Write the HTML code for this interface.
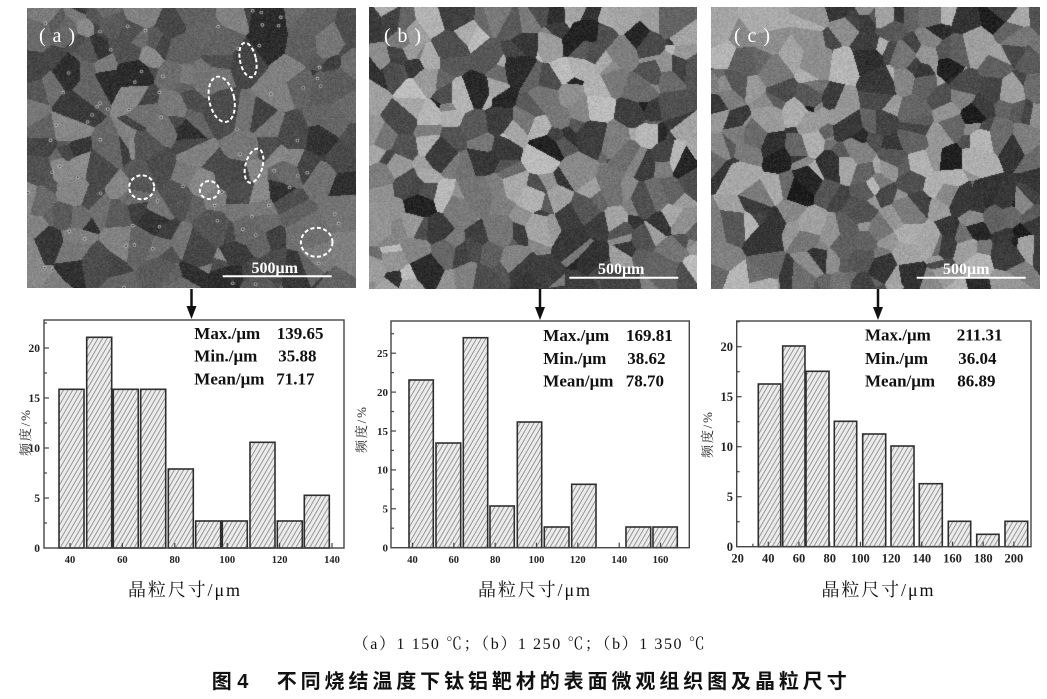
<!DOCTYPE html>
<html>
<head>
<meta charset="utf-8">
<style>
html,body{margin:0;padding:0;background:#fff;}
#wrap{position:relative;width:1047px;height:699px;overflow:hidden;background:#fff;}
canvas{position:absolute;display:block;background:#767676;}
svg{position:absolute;left:0;top:0;}
</style>
</head>
<body>
<div id="wrap">
<canvas id="ca" style="left:27px;top:8px;width:329px;height:280px;" width="329" height="280"></canvas>
<canvas id="cb" style="left:369px;top:7px;width:328px;height:282px;" width="328" height="282"></canvas>
<canvas id="cc" style="left:711px;top:7px;width:329px;height:282px;" width="329" height="282"></canvas>

<svg width="1047" height="699" viewBox="0 0 1047 699" xmlns="http://www.w3.org/2000/svg">
<defs>
<pattern id="h" patternUnits="userSpaceOnUse" width="4" height="10" patternTransform="rotate(30)">
<rect width="4" height="10" fill="#ececec"/>
<line x1="2" y1="0" x2="2" y2="10" stroke="#8c8c8c" stroke-width="0.9"/>
</pattern>
</defs>

<!-- image labels & scale bars -->
<g fill="#fff" font-family="'Liberation Serif',serif">
<text x="39" y="42" font-size="20" textLength="36" lengthAdjust="spacing">(a)</text>
<text x="384" y="42" font-size="20" textLength="37" lengthAdjust="spacing">(b)</text>
<text x="734" y="42" font-size="20" textLength="36" lengthAdjust="spacing">(c)</text>
<text x="251.5" y="273" font-size="16" font-weight="bold">500μm</text>
<text x="598" y="274" font-size="16" font-weight="bold">500μm</text>
<text x="943" y="274" font-size="16" font-weight="bold">500μm</text>
</g>
<g stroke="#fff" stroke-width="2">
<line x1="222.7" y1="276.3" x2="331.7" y2="276.3"/>
<line x1="569.3" y1="277.7" x2="678.3" y2="277.7"/>
<line x1="916.7" y1="277.7" x2="1025.7" y2="277.7"/>
</g>
<!-- dashed ellipses in (a) -->
<g fill="none" stroke="#fff" stroke-width="2" stroke-dasharray="4 2.5">
<ellipse cx="248" cy="60" rx="8" ry="17.5" transform="rotate(-12 248 60)"/>
<ellipse cx="221.7" cy="99.3" rx="12.5" ry="23" transform="rotate(-12 221.7 99.3)"/>
<ellipse cx="254" cy="165.7" rx="8.5" ry="17.5" transform="rotate(15 254 165.7)"/>
<ellipse cx="141.7" cy="187.3" rx="12.5" ry="12"/>
<ellipse cx="209.3" cy="190" rx="9.5" ry="9"/>
<ellipse cx="316.7" cy="242.3" rx="15.8" ry="14.5"/>
</g>

<!-- arrows -->
<g stroke="#111" stroke-width="2.5">
<line x1="191.5" y1="289" x2="191.5" y2="308"/>
<line x1="540" y1="289" x2="540" y2="309"/>
<line x1="878" y1="289" x2="878" y2="309"/>
</g>
<g fill="#111">
<polygon points="186.5,306 196.5,306 191.5,319"/>
<polygon points="535,307 545,307 540,320"/>
<polygon points="873,307 883,307 878,320"/>
</g>

<!-- ================= Chart 1 ================= -->
<g stroke="#2e2e2e" stroke-width="1.6" fill="url(#h)">
<rect x="59" y="389.3" width="25" height="158.7"/>
<rect x="86.7" y="337.3" width="25" height="210.7"/>
<rect x="113.3" y="389.3" width="25" height="158.7"/>
<rect x="140.7" y="389.3" width="25" height="158.7"/>
<rect x="168.3" y="469" width="25" height="79"/>
<rect x="195.7" y="521" width="25" height="27"/>
<rect x="222.3" y="521" width="25" height="27"/>
<rect x="250" y="442.3" width="25" height="105.7"/>
<rect x="277.3" y="521" width="25" height="27"/>
<rect x="304.3" y="495.3" width="25" height="52.7"/>
</g>
<rect x="44" y="320" width="300" height="228" fill="none" stroke="#444" stroke-width="1.4"/>
<g stroke="#444" stroke-width="1.2">
<line x1="44" y1="498" x2="49" y2="498"/><line x1="44" y1="448" x2="49" y2="448"/>
<line x1="44" y1="398" x2="49" y2="398"/><line x1="44" y1="348" x2="49" y2="348"/>
<line x1="44" y1="523" x2="47" y2="523"/><line x1="44" y1="473" x2="47" y2="473"/>
<line x1="44" y1="423" x2="47" y2="423"/><line x1="44" y1="373" x2="47" y2="373"/>
<line x1="44" y1="323" x2="47" y2="323"/>
<line x1="70" y1="548" x2="70" y2="543"/><line x1="122.4" y1="548" x2="122.4" y2="543"/>
<line x1="174.8" y1="548" x2="174.8" y2="543"/><line x1="227.2" y1="548" x2="227.2" y2="543"/>
<line x1="279.6" y1="548" x2="279.6" y2="543"/><line x1="332" y1="548" x2="332" y2="543"/>
</g>
<g font-family="'Liberation Serif',serif" font-weight="bold" fill="#222">
<g font-size="11.5" text-anchor="end">
<text x="40" y="552">0</text><text x="40" y="502">5</text><text x="40" y="452">10</text>
<text x="40" y="402">15</text><text x="40" y="352">20</text>
</g>
<g font-size="10.5" text-anchor="middle">
<text x="70" y="563">40</text><text x="122.4" y="563">60</text><text x="174.8" y="563">80</text>
<text x="227.2" y="563">100</text><text x="279.6" y="563">120</text><text x="332" y="563">140</text>
</g>
<g font-size="17" fill="#111">
<text x="194.3" y="339">Max./μm</text><text x="276.7" y="339">139.65</text>
<text x="194.3" y="361.7">Min./μm</text><text x="278.3" y="361.7">35.88</text>
<text x="194.3" y="384.3">Mean/μm</text><text x="276.3" y="384.3">71.17</text>
</g>
</g>
<text transform="rotate(-90 30 433)" x="30" y="433" text-anchor="middle" font-size="13" textLength="46" font-family="'Liberation Serif','Noto Serif CJK SC',serif" fill="#222">频度/%</text>
<text x="128" y="596" font-size="18" textLength="112" font-family="'Liberation Serif','Noto Serif CJK SC',serif" fill="#111">晶粒尺寸/μm</text>

<!-- ================= Chart 2 ================= -->
<g stroke="#2e2e2e" stroke-width="1.6" fill="url(#h)">
<rect x="409" y="380" width="24.3" height="167.7"/>
<rect x="436" y="443" width="24.7" height="104.7"/>
<rect x="463.3" y="337.7" width="24.4" height="210"/>
<rect x="490" y="506" width="24.3" height="41.7"/>
<rect x="517.3" y="422" width="24.4" height="125.7"/>
<rect x="544.3" y="527" width="24.7" height="20.7"/>
<rect x="571.7" y="484.3" width="24.3" height="63.4"/>
<rect x="626" y="527" width="24.7" height="20.7"/>
<rect x="653" y="527" width="24.3" height="20.7"/>
</g>
<rect x="391" y="321" width="298.3" height="226.7" fill="none" stroke="#444" stroke-width="1.4"/>
<g stroke="#444" stroke-width="1.2">
<line x1="391" y1="508.8" x2="396" y2="508.8"/><line x1="391" y1="469.9" x2="396" y2="469.9"/>
<line x1="391" y1="431" x2="396" y2="431"/><line x1="391" y1="392.1" x2="396" y2="392.1"/>
<line x1="391" y1="353.2" x2="396" y2="353.2"/>
<line x1="391" y1="528.2" x2="394" y2="528.2"/><line x1="391" y1="489.3" x2="394" y2="489.3"/>
<line x1="391" y1="450.4" x2="394" y2="450.4"/><line x1="391" y1="411.5" x2="394" y2="411.5"/>
<line x1="391" y1="372.6" x2="394" y2="372.6"/><line x1="391" y1="333.7" x2="394" y2="333.7"/>
<line x1="412.5" y1="547.7" x2="412.5" y2="542.7"/><line x1="453.8" y1="547.7" x2="453.8" y2="542.7"/>
<line x1="495.2" y1="547.7" x2="495.2" y2="542.7"/><line x1="536.5" y1="547.7" x2="536.5" y2="542.7"/>
<line x1="577.8" y1="547.7" x2="577.8" y2="542.7"/><line x1="619.2" y1="547.7" x2="619.2" y2="542.7"/>
<line x1="660.5" y1="547.7" x2="660.5" y2="542.7"/>
</g>
<g font-family="'Liberation Serif',serif" font-weight="bold" fill="#222">
<g font-size="11" text-anchor="end">
<text x="388" y="551.5">0</text><text x="388" y="512.6">5</text><text x="388" y="473.7">10</text>
<text x="388" y="434.8">15</text><text x="388" y="395.9">20</text><text x="388" y="357">25</text>
</g>
<g font-size="10.5" text-anchor="middle">
<text x="412.5" y="563">40</text><text x="453.8" y="563">60</text><text x="495.2" y="563">80</text>
<text x="536.5" y="563">100</text><text x="577.8" y="563">120</text><text x="619.2" y="563">140</text>
<text x="660.5" y="563">160</text>
</g>
<g font-size="17" fill="#111">
<text x="543.3" y="341">Max./μm</text><text x="626" y="341">169.81</text>
<text x="543.3" y="364">Min./μm</text><text x="627.3" y="364">38.62</text>
<text x="543.3" y="386.7">Mean/μm</text><text x="625.7" y="386.7">78.70</text>
</g>
</g>
<text transform="rotate(-90 366 430)" x="366" y="430" text-anchor="middle" font-size="13" textLength="46" font-family="'Liberation Serif','Noto Serif CJK SC',serif" fill="#222">频度/%</text>
<text x="478" y="596" font-size="18" textLength="112" font-family="'Liberation Serif','Noto Serif CJK SC',serif" fill="#111">晶粒尺寸/μm</text>

<!-- ================= Chart 3 ================= -->
<g stroke="#2e2e2e" stroke-width="1.6" fill="url(#h)">
<rect x="758.3" y="384" width="22.4" height="162.7"/>
<rect x="782.7" y="346" width="22.3" height="200.7"/>
<rect x="806" y="371.3" width="23" height="175.4"/>
<rect x="834.3" y="421.3" width="22.4" height="125.4"/>
<rect x="862.7" y="434" width="23" height="112.7"/>
<rect x="891" y="446" width="23" height="100.7"/>
<rect x="919.3" y="483.7" width="23" height="63"/>
<rect x="948.3" y="521.3" width="22.4" height="25.4"/>
<rect x="976.7" y="534.3" width="22.3" height="12.4"/>
<rect x="1005" y="521.3" width="22.7" height="25.4"/>
</g>
<rect x="736.7" y="321" width="294.3" height="225.7" fill="none" stroke="#444" stroke-width="1.4"/>
<g stroke="#444" stroke-width="1.2">
<line x1="736.7" y1="496.7" x2="741.7" y2="496.7"/><line x1="736.7" y1="446.7" x2="741.7" y2="446.7"/>
<line x1="736.7" y1="396.7" x2="741.7" y2="396.7"/><line x1="736.7" y1="346.7" x2="741.7" y2="346.7"/>
<line x1="736.7" y1="521.7" x2="739.7" y2="521.7"/><line x1="736.7" y1="471.7" x2="739.7" y2="471.7"/>
<line x1="736.7" y1="421.7" x2="739.7" y2="421.7"/><line x1="736.7" y1="371.7" x2="739.7" y2="371.7"/>
<line x1="736.7" y1="321.7" x2="739.7" y2="321.7"/>
<line x1="752.9" y1="546.7" x2="752.9" y2="543.7"/><line x1="768.3" y1="546.7" x2="768.3" y2="541.7"/>
<line x1="799" y1="546.7" x2="799" y2="541.7"/><line x1="829.7" y1="546.7" x2="829.7" y2="541.7"/>
<line x1="860.4" y1="546.7" x2="860.4" y2="541.7"/><line x1="891.1" y1="546.7" x2="891.1" y2="541.7"/>
<line x1="921.8" y1="546.7" x2="921.8" y2="541.7"/><line x1="952.5" y1="546.7" x2="952.5" y2="541.7"/>
<line x1="983.2" y1="546.7" x2="983.2" y2="541.7"/><line x1="1013.9" y1="546.7" x2="1013.9" y2="541.7"/>
</g>
<g font-family="'Liberation Serif',serif" font-weight="bold" fill="#222">
<g font-size="12.5" text-anchor="end">
<text x="733" y="551">0</text><text x="733" y="501">5</text><text x="733" y="451">10</text>
<text x="733" y="401">15</text><text x="733" y="351">20</text>
</g>
<g font-size="12.5" text-anchor="middle">
<text x="737.6" y="562.5">20</text><text x="768.3" y="562.5">40</text><text x="799" y="562.5">60</text>
<text x="829.7" y="562.5">80</text><text x="860.4" y="562.5">100</text><text x="891.1" y="562.5">120</text>
<text x="921.8" y="562.5">140</text><text x="952.5" y="562.5">160</text><text x="983.2" y="562.5">180</text>
<text x="1013.9" y="562.5">200</text>
</g>
<g font-size="17" fill="#111">
<text x="865" y="340.7">Max./μm</text><text x="956.7" y="340.7">211.31</text>
<text x="865" y="364">Min./μm</text><text x="958.3" y="364">36.04</text>
<text x="865" y="386.7">Mean/μm</text><text x="957.3" y="386.7">86.89</text>
</g>
</g>
<text transform="rotate(-90 712 435)" x="712" y="435" text-anchor="middle" font-size="13" textLength="46" font-family="'Liberation Serif','Noto Serif CJK SC',serif" fill="#222">频度/%</text>
<text x="821.5" y="596" font-size="18" textLength="112" font-family="'Liberation Serif','Noto Serif CJK SC',serif" fill="#111">晶粒尺寸/μm</text>

<!-- captions -->
<text x="352.7" y="649" font-size="16" textLength="352" font-family="'Liberation Serif','Noto Serif CJK SC',serif" fill="#111">（a）1 150 ℃；（b）1 250 ℃；（b）1 350 ℃</text>
<text x="211.7" y="688" font-size="20" font-weight="bold" font-family="'Liberation Sans','Noto Sans CJK SC',sans-serif" fill="#111">图 4</text>
<text x="276.7" y="688" font-size="20" font-weight="bold" textLength="570" font-family="'Liberation Sans','Noto Sans CJK SC',sans-serif" fill="#111">不同烧结温度下钛铝靶材的表面微观组织图及晶粒尺寸</text>
</svg>
</div>

<script>
function rng(a){return function(){a|=0;a=a+0x6D2B79F5|0;var t=Math.imul(a^a>>>15,1|a);t=t+Math.imul(t^t>>>7,61|t)^t;return((t^t>>>14)>>>0)/4294967296;};}
function grains(id,n,seed,lo,hi,darkFrac,noise,pores){
  var c=document.getElementById(id);var w=c.width,h=c.height;var ctx=c.getContext('2d');
  var img=ctx.createImageData(w,h);var d=img.data;var r=rng(seed);
  var sx=[],sy=[],sw=[],sg=[],i;
  for(i=0;i<n;i++){
    sx.push(r()*w);sy.push(r()*h);sw.push(r()*220);
    var g=(r()<darkFrac)?(lo-25+r()*30):(lo+r()*(hi-lo));
    sg.push(g);
  }
  for(var y=0;y<h;y++){
    for(var x=0;x<w;x++){
      var best=0,bd=1e12;
      for(i=0;i<n;i++){var dx=x-sx[i],dy=y-sy[i];var dd=dx*dx+dy*dy-sw[i];if(dd<bd){bd=dd;best=i;}}
      var v=sg[best]+(r()-0.5)*noise;
      if(v<0)v=0;if(v>255)v=255;
      var k=(y*w+x)*4;d[k]=v;d[k+1]=v;d[k+2]=v;d[k+3]=255;
    }
  }
  ctx.putImageData(img,0,0);
  if(pores){
    for(i=0;i<pores;i++){
      var px=r()*w,py=r()*h;
      ctx.fillStyle='rgba(220,220,220,0.8)';ctx.beginPath();ctx.arc(px,py,1.8,0,6.3);ctx.fill();
      ctx.fillStyle='#222';ctx.beginPath();ctx.arc(px,py,0.9,0,6.3);ctx.fill();
    }
  }
}
try{
  grains('ca',220,11,68,138,0.2,30,70);
  grains('cb',300,23,58,190,0.12,30,0);
  grains('cc',320,37,52,182,0.14,30,0);
}catch(e){}
</script>
</body>
</html>
